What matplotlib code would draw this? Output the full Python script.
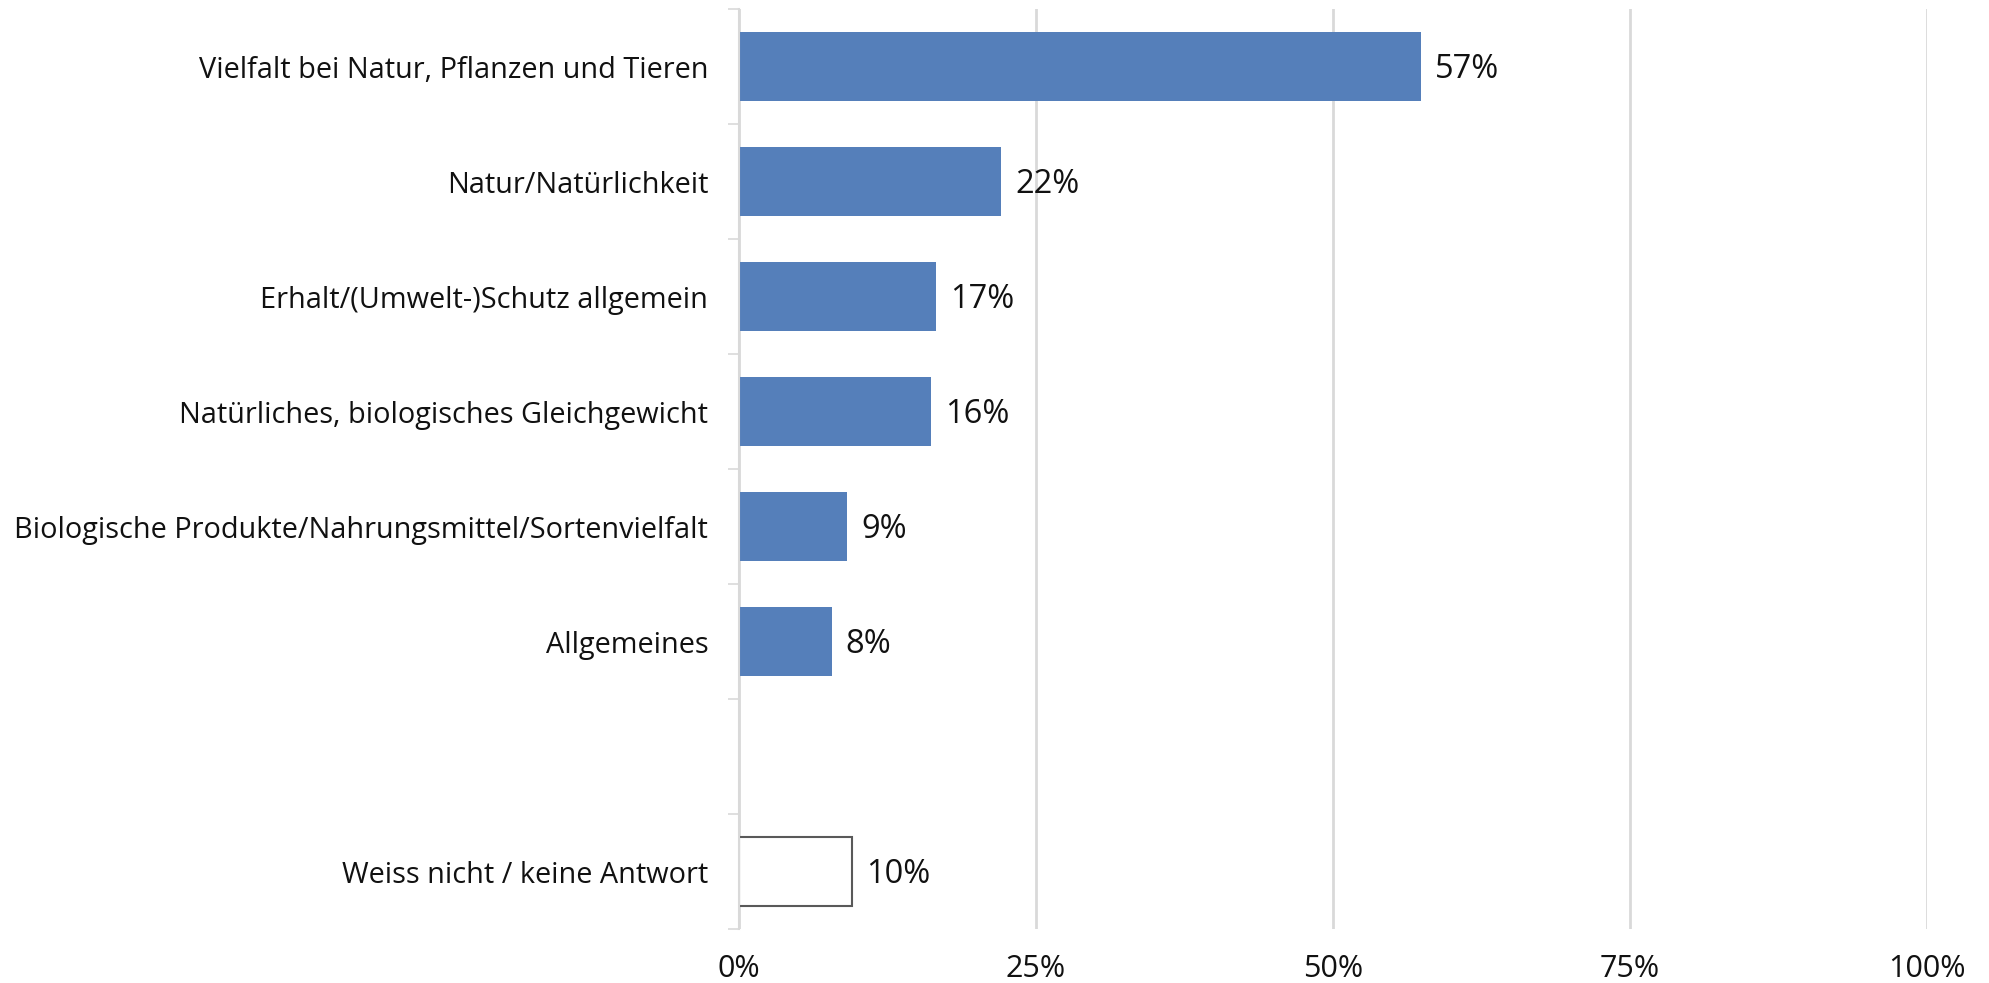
import numpy as np
import matplotlib.pyplot as plt
from matplotlib.ticker import FixedLocator, PercentFormatter

categories = [
    "Vielfalt bei Natur, Pflanzen und Tieren",
    "Natur/Natürlichkeit",
    "Erhalt/(Umwelt-)Schutz allgemein",
    "Natürliches, biologisches Gleichgewicht",
    "Biologische Produkte/Nahrungsmittel/Sortenvielfalt",
    "Allgemeines",
    "",
    "Weiss nicht / keine Antwort",
]
values = [57.4, 22.1, 16.6, 16.2, 9.1, 7.8, None, 9.5]
labels = ["57%", "22%", "17%", "16%", "9%", "8%", "", "10%"]
dont_know = [False, False, False, False, False, False, False, True]

BLUE = "#557fba"
GRID = "#d9d9d9"

plt.rcParams['font.family'] = ['Open Sans', 'DejaVu Sans']

fig = plt.figure(figsize=(19.89, 9.83), dpi=100)
ax = fig.add_axes([0.3715, 0.0549, 0.5973, 0.9359])

ypos = np.arange(len(categories))
for y, v, lab, dk in zip(ypos, values, labels, dont_know):
    if v is None:
        continue
    if dk:
        ax.barh(y, v, height=0.6, color="white", edgecolor="#595959", linewidth=1.5)
    else:
        ax.barh(y, v, height=0.6, color=BLUE, edgecolor="none")
    ax.annotate(lab, (v, y), xytext=(10, -2), textcoords="offset points",
                va="center", ha="left", fontsize=23.5, color="#111111")

ax.set_xlim(0, 100)
ax.set_ylim(len(categories) - 0.5, -0.5)

ax.set_xticks([0, 25, 50, 75, 100])
ax.xaxis.set_major_formatter(PercentFormatter(decimals=0))
ax.tick_params(axis="x", length=0, pad=18, labelsize=22, labelcolor="#111111")
ax.grid(axis="x", color=GRID, linewidth=2)
ax.set_axisbelow(True)

ax.set_yticks(ypos)
ax.set_yticklabels(categories)
ax.tick_params(axis="y", which="major", length=0, pad=22, labelsize=20.8, labelcolor="#111111")
ax.yaxis.set_minor_locator(FixedLocator(np.arange(len(categories) + 1) - 0.5))
ax.tick_params(axis="y", which="minor", length=8, width=1.2, color=GRID)

for s in ["top", "right", "bottom"]:
    ax.spines[s].set_visible(False)
ax.spines["left"].set_color(GRID)
ax.spines["left"].set_linewidth(1.5)

fig.savefig("out.png", dpi=100)
